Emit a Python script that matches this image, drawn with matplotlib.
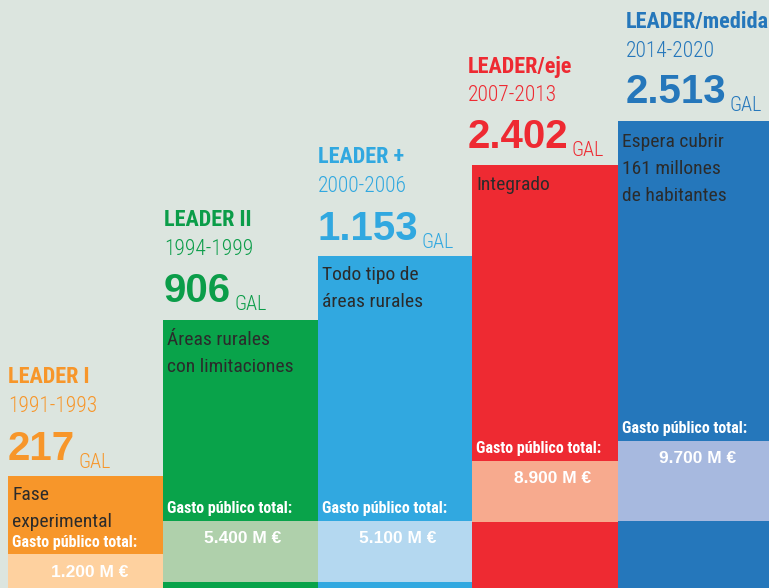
import matplotlib.pyplot as plt

# datos del gráfico (escalera LEADER)
programas = ['LEADER I', 'LEADER II', 'LEADER +', 'LEADER/eje', 'LEADER/medida']
periodos = ['1991-1993', '1994-1999', '2000-2006', '2007-2013', '2014-2020']
gal = ['217', '906', '1.153', '2.402', '2.513']
descripcion = [['Fase', 'experimental'],
               ['Áreas rurales', 'con limitaciones'],
               ['Todo tipo de', 'áreas rurales'],
               ['Integrado'],
               ['Espera cubrir', '161 millones', 'de habitantes']]
gasto = ['1.200 M €', '5.400 M €', '5.100 M €', '8.900 M €', '9.700 M €']

# alturas de los escalones (px)
alturas = [112, 268, 332, 423, 467]
banda_inf = [0, 6, 6, 66, 67]
banda_sup = [34, 67, 67, 127, 147]

bordes = [8, 163, 318, 472, 618, 769]
col_fuerte = ['#f7962a', '#09a34a', '#31a8e0', '#ee2a32', '#2577bb']
col_suave = ['#fed19f', '#afd0ab', '#b4d8f0', '#f7aa8e', '#a7b9df']
col_texto = ['#f7962a', '#0b9d49', '#31a8e0', '#ee2a32', '#2577bb']

FONDO = '#dce5df'
COND = ['Roboto Condensed', 'DejaVu Sans']
SANS = ['Liberation Sans', 'DejaVu Sans']

fig = plt.figure(figsize=(7.69, 5.88), dpi=100, facecolor=FONDO)
ax = fig.add_axes([0, 0, 1, 1])
ax.set_facecolor(FONDO)
ax.set_xlim(0, 769)
ax.set_ylim(0, 588)
ax.axis('off')

H = 588


def y(px):
    # de coordenada de pantalla (desde arriba) a coordenada de datos
    return H - px


# posiciones del texto (baseline, px desde arriba)
x_titulo = [8, 164, 318, 468, 626]
y_titulo = [383, 226, 163, 73, 28]
y_periodo = [412, 255, 192, 101, 57]
y_gal = [460, 302, 240, 148, 103]
y_desc = [500, 345, 280, 190, 147]
y_gasto_lbl = [547, 513, 513, 453, 433]
y_gasto_val = [577, 543, 543, 483, 463]
x_gasto_val = [90, 243, 398, 553, 698]

for i in range(5):
    x0 = bordes[i]
    ancho = bordes[i + 1] - bordes[i]
    ax.bar(x0, alturas[i], width=ancho, align='edge', color=col_fuerte[i],
           linewidth=0)
    ax.bar(x0, banda_sup[i] - banda_inf[i], bottom=banda_inf[i], width=ancho,
           align='edge', color=col_suave[i], linewidth=0)

    xt = x_titulo[i]
    ax.text(xt, y(y_titulo[i]), programas[i], color=col_texto[i],
            fontsize=16, fontweight='bold', family=COND, va='baseline')
    ax.text(xt, y(y_periodo[i]), periodos[i], color=col_texto[i],
            fontsize=15.5, fontweight='light', family=COND, va='baseline')
    t = ax.text(xt, y(y_gal[i]), gal[i], color=col_texto[i],
                fontsize=29, fontweight='bold', family=SANS, va='baseline')
    ax.annotate('GAL', xy=(1, 0), xycoords=t, xytext=(3, 0),
                textcoords='offset pixels', color=col_texto[i],
                fontsize=14.5, fontweight='light', family=COND,
                va='baseline', ha='left')

    for k, linea in enumerate(descripcion[i]):
        ax.text(x0 + 4, y(y_desc[i] + 27 * k), linea, color='#2b2b2b',
                fontsize=14, family=COND, va='baseline')
    ax.text(x0 + 4, y(y_gasto_lbl[i]), 'Gasto público total:', color='white',
            fontsize=11.5, fontweight='bold', family=COND, va='baseline')
    ax.text(x_gasto_val[i], y(y_gasto_val[i]), gasto[i], color='white',
            fontsize=12.5, fontweight='bold', family=SANS, va='baseline',
            ha='center')

fig.savefig('out.png', dpi=100, facecolor=FONDO)
